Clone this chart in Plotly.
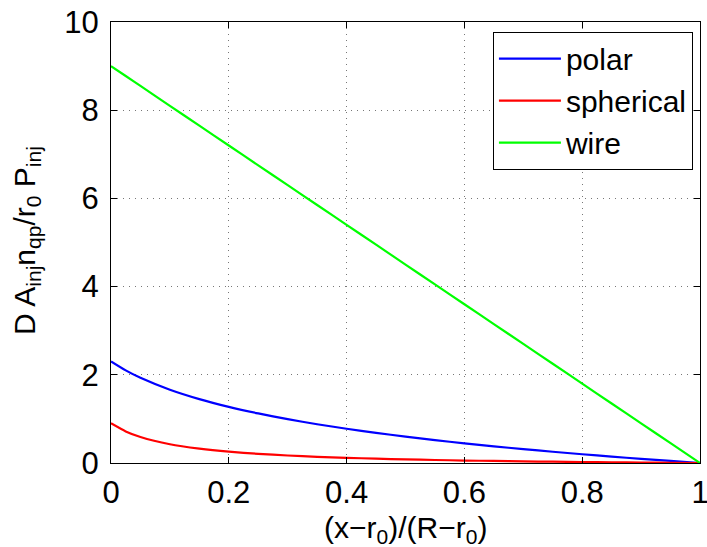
import plotly.graph_objects as go

# x positions, normalized (x-r0)/(R-r0)
x_vals = [0.0, 0.025, 0.05, 0.10, 0.15, 0.20, 0.25, 0.30, 0.35, 0.40, 0.45, 0.50,
          0.55, 0.60, 0.65, 0.70, 0.75, 0.80, 0.85, 0.90, 0.95, 1.0]
polar = [2.303, 2.100, 1.931, 1.661, 1.448, 1.273, 1.124, 0.994, 0.879, 0.777, 0.683, 0.598,
         0.519, 0.446, 0.378, 0.315, 0.255, 0.198, 0.145, 0.094, 0.046, 0.0]
spherical = [0.900, 0.716, 0.590, 0.426, 0.326, 0.257, 0.208, 0.170, 0.141, 0.117, 0.098, 0.082,
             0.068, 0.056, 0.046, 0.037, 0.029, 0.022, 0.016, 0.010, 0.005, 0.0]
wire = [9.0, 8.775, 8.55, 8.1, 7.65, 7.2, 6.75, 6.3, 5.85, 5.4, 4.95, 4.5,
        4.05, 3.6, 3.15, 2.7, 2.25, 1.8, 1.35, 0.9, 0.45, 0.0]

series_names = ["polar", "spherical", "wire"]
series_colors = ["#0000ff", "#ff0000", "#00ff00"]
x_ticks = [0, 0.2, 0.4, 0.6, 0.8, 1]
x_tick_labels = ["0", "0.2", "0.4", "0.6", "0.8", "1"]
y_ticks = [0, 2, 4, 6, 8, 10]
y_tick_labels = ["0", "2", "4", "6", "8", "10"]
x_title = "(x\u2212r<sub>0</sub>)/(R\u2212r<sub>0</sub>)"
y_title = "D A<sub>inj</sub>n<sub>qp</sub>/r<sub>0</sub> P<sub>inj</sub>"

FONT = "Liberation Sans, Arial, sans-serif"

fig = go.Figure()
for name, ys, col in zip(series_names, [polar, spherical, wire], series_colors):
    fig.add_trace(go.Scatter(x=x_vals, y=ys, mode="lines", name=name,
                             line=dict(color=col, width=2.2, shape="spline", smoothing=0.6)))

axis_common = dict(
    showline=True, linecolor="black", linewidth=1, mirror="ticks",
    ticks="inside", ticklen=6, tickcolor="black", tickwidth=1,
    showgrid=True, gridcolor="#777777", gridwidth=1, griddash="1px,5px",
    zeroline=False, tickfont=dict(family=FONT, size=31, color="black"),
    ticklabeloverflow="allow",
)

fig.update_xaxes(range=[0, 1], tickvals=x_ticks, ticktext=x_tick_labels,
                 ticklabelstandoff=2, **axis_common)
fig.update_yaxes(range=[0, 10], tickvals=y_ticks, ticktext=y_tick_labels,
                 ticklabelstandoff=5, **axis_common)

fig.add_annotation(text=x_title, xref="paper", yref="paper",
                   x=0.5, y=(463 - 529) / 441, xanchor="center", yanchor="middle",
                   showarrow=False, font=dict(family=FONT, size=30, color="black"))
fig.add_annotation(text=y_title, xref="paper", yref="paper", textangle=-90,
                   x=(27 - 111) / 589, y=(463 - 240) / 441, xanchor="center", yanchor="middle",
                   showarrow=False, font=dict(family=FONT, size=30, color="black"))

fig.update_layout(
    width=707, height=547,
    margin=dict(l=111, r=7, t=22, b=84, autoexpand=False),
    paper_bgcolor="white", plot_bgcolor="white",
    showlegend=True,
    legend=dict(x=0.988, y=0.978, xanchor="right", yanchor="top",
                bgcolor="white", bordercolor="black", borderwidth=1,
                font=dict(family=FONT, size=30, color="black"),
                itemwidth=62, tracegroupgap=0),
)

fig.write_html("out.html")
